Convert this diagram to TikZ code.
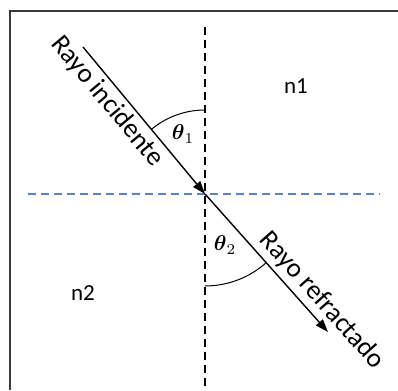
\documentclass[tikz,border=0pt]{standalone}
\usepackage{fontspec}
\setmainfont{Carlito}
\usetikzlibrary{arrows.meta}
\definecolor{frameGray}{HTML}{3A3A3A}
\definecolor{surfBlue}{HTML}{5584D2}
\newcommand{\angleLabel}[1]{\scalebox{2.15}{$\boldsymbol{\theta}_{#1}$}}
\usepackage{amsmath}

\begin{document}
\begin{tikzpicture}[x=1pt, y=1pt,
  ray/.style={line width=1.4pt, -{Triangle[length=13pt, width=9pt]}},
  normal/.style={line width=1.3pt, dash pattern=on 8pt off 5pt},
  raylabel/.style={font=\fontsize{27}{30}\selectfont, sloped, inner sep=4pt},
  medium/.style={font=\fontsize{23}{26}\selectfont}]
  \useasboundingbox (0,0) rectangle (398,390);
  % marco
  \draw[frameGray, line width=1.5pt] (10,0) -- (10,379) -- (398,379);
  % normal y superficie de separacion
  \coordinate (O) at (205,196);
  \coordinate (normTop) at (205,363);
  \coordinate (normBot) at (205,0);
  \coordinate (surfL) at (28,196);
  \coordinate (surfR) at (380,196);
  \draw[normal] (normTop) -- (normBot);
  \draw[normal, surfBlue] (surfL) -- (surfR);
  % rayos
  \coordinate (A) at (83,343);
  \coordinate (B) at (328,58);
  \draw[ray] (A) -- (O)
    node[raylabel, pos=0.3, anchor=north] {Rayo incidente};
  \draw[ray] (O) -- (B)
    node[raylabel, pos=0.85, anchor=south] {Rayo refractado};
  % angulos
  \draw[line width=1pt] (O) ++(90:84) arc[start angle=90, end angle=129.7, radius=84];
  \draw[line width=1pt] (O) ++(270:92) arc[start angle=270, end angle=311.7, radius=92];
  \node (theta1) at (183,256) {\angleLabel{1}};
  \node (theta2) at (225,145) {\angleLabel{2}};
  % medios
  \node[medium] (n1) at (296,304) {n1};
  \node[medium] (n2) at (83,97) {n2};
\end{tikzpicture}
\end{document}
